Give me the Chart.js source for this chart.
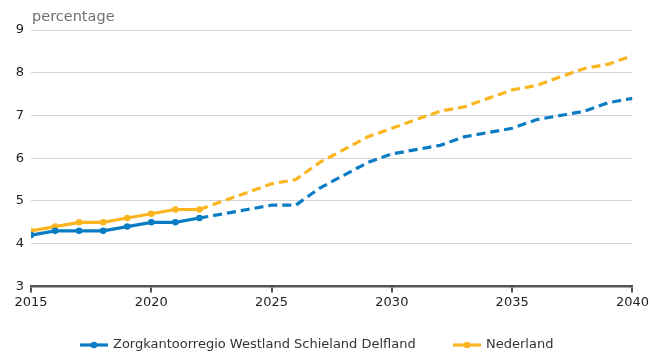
<!DOCTYPE html>
<html>
<head>
<meta charset="utf-8">
<script src="https://cdn.jsdelivr.net/npm/chart.js@4/dist/chart.umd.min.js"></script>
<style>
  html, body { margin: 0; padding: 0; background: #fff; }
  #wrap { width: 651px; height: 352px; position: relative; }
</style>
</head>
<body>
<div id="wrap"><canvas id="c" width="651" height="352"></canvas></div>
<script>
// Years on the horizontal axis
const years = [2015, 2016, 2017, 2018, 2019, 2020, 2021, 2022, 2023, 2024, 2025, 2026, 2027,
               2028, 2029, 2030, 2031, 2032, 2033, 2034, 2035, 2036, 2037, 2038, 2039, 2040];

// Share (percentage) per year; from 2023 on the values are projections
const regioValues = [4.2, 4.3, 4.3, 4.3, 4.4, 4.5, 4.5, 4.6, 4.7, 4.8, 4.9, 4.9, 5.3,
                     5.6, 5.9, 6.1, 6.2, 6.3, 6.5, 6.6, 6.7, 6.9, 7.0, 7.1, 7.3, 7.4];
const nederlandValues = [4.3, 4.4, 4.5, 4.5, 4.6, 4.7, 4.8, 4.8, 5.0, 5.2, 5.4, 5.5, 5.9,
                         6.2, 6.5, 6.7, 6.9, 7.1, 7.2, 7.4, 7.6, 7.7, 7.9, 8.1, 8.2, 8.4];

const seriesNames = ['Zorgkantoorregio Westland Schieland Delfland', 'Nederland'];
const xTicks = [2015, 2020, 2025, 2030, 2035, 2040];
const yTicks = [3, 4, 5, 6, 7, 8, 9];
const unitLabel = 'percentage';

const lastObservedYear = 2022;
const BLUE = '#0a7cc4';
const ORANGE = '#fbb520';
const FONT = '"DejaVu Sans", Verdana, sans-serif';

function makeDataset(label, values, color) {
  return {
    label: label,
    data: years.map((yr, i) => ({ x: yr, y: values[i] })),
    borderColor: color,
    backgroundColor: color,
    borderWidth: 3.2,
    pointRadius: years.map(yr => (yr <= lastObservedYear ? 3.3 : 0)),
    pointHoverRadius: 0,
    pointBorderWidth: 0,
    pointStyle: 'circle',
    tension: 0,
    segment: {
      borderDash: ctx => (years[ctx.p0DataIndex] >= lastObservedYear ? [9, 5] : undefined)
    }
  };
}

// Unit label above the value axis
const unitPlugin = {
  id: 'unit',
  afterDraw(chart) {
    const ctx = chart.ctx;
    ctx.save();
    ctx.font = '14.5px ' + FONT;
    ctx.fillStyle = '#707070';
    ctx.textBaseline = 'alphabetic';
    ctx.textAlign = 'left';
    ctx.fillText(unitLabel, chart.chartArea.left + 1, 21);
    ctx.restore();
  }
};

// Legend row at the bottom: line with a dot, followed by the series name
const legendPlugin = {
  id: 'bottomLegend',
  afterDraw(chart) {
    const ctx = chart.ctx;
    const y = 345;
    const starts = [80, 453];
    ctx.save();
    ctx.font = '13px ' + FONT;
    ctx.textBaseline = 'middle';
    ctx.textAlign = 'left';
    chart.data.datasets.forEach((ds, i) => {
      const x = starts[i];
      ctx.strokeStyle = ds.borderColor;
      ctx.lineWidth = 3.2;
      ctx.beginPath(); ctx.moveTo(x, y); ctx.lineTo(x + 28, y); ctx.stroke();
      ctx.fillStyle = ds.borderColor;
      ctx.beginPath(); ctx.arc(x + 14, y, 3.3, 0, Math.PI * 2); ctx.fill();
      ctx.fillStyle = '#333';
      ctx.fillText(ds.label, x + 33, y);
    });
    ctx.restore();
  }
};

new Chart(document.getElementById('c'), {
  type: 'line',
  data: {
    datasets: [
      makeDataset(seriesNames[0], regioValues, BLUE),
      makeDataset(seriesNames[1], nederlandValues, ORANGE)
    ]
  },
  options: {
    responsive: false,
    animation: false,
    events: [],
    layout: { padding: { top: 30, right: 4, left: 0, bottom: 40 } },
    plugins: {
      tooltip: { enabled: false },
      legend: { display: false }
    },
    scales: {
      x: {
        type: 'linear',
        min: xTicks[0],
        max: xTicks[xTicks.length - 1],
        afterBuildTicks: s => { s.ticks = xTicks.map(v => ({ value: v })); },
        ticks: {
          color: '#222',
          font: { family: FONT, size: 13 },
          padding: 2,
          maxRotation: 0,
          callback: v => String(v)
        },
        grid: { drawOnChartArea: false, drawTicks: true, tickLength: 6, color: '#555', lineWidth: 2 },
        border: { display: true, color: '#555', width: 2.5 }
      },
      y: {
        min: yTicks[0],
        max: yTicks[yTicks.length - 1],
        afterBuildTicks: s => { s.ticks = yTicks.map(v => ({ value: v })); },
        afterFit: s => { s.width = 31; },
        ticks: {
          color: '#222',
          font: { family: FONT, size: 13 },
          padding: 7
        },
        grid: { color: '#d4d4d4', lineWidth: 1, drawTicks: false },
        border: { display: false }
      }
    }
  },
  plugins: [unitPlugin, legendPlugin]
});
</script>
</body>
</html>
